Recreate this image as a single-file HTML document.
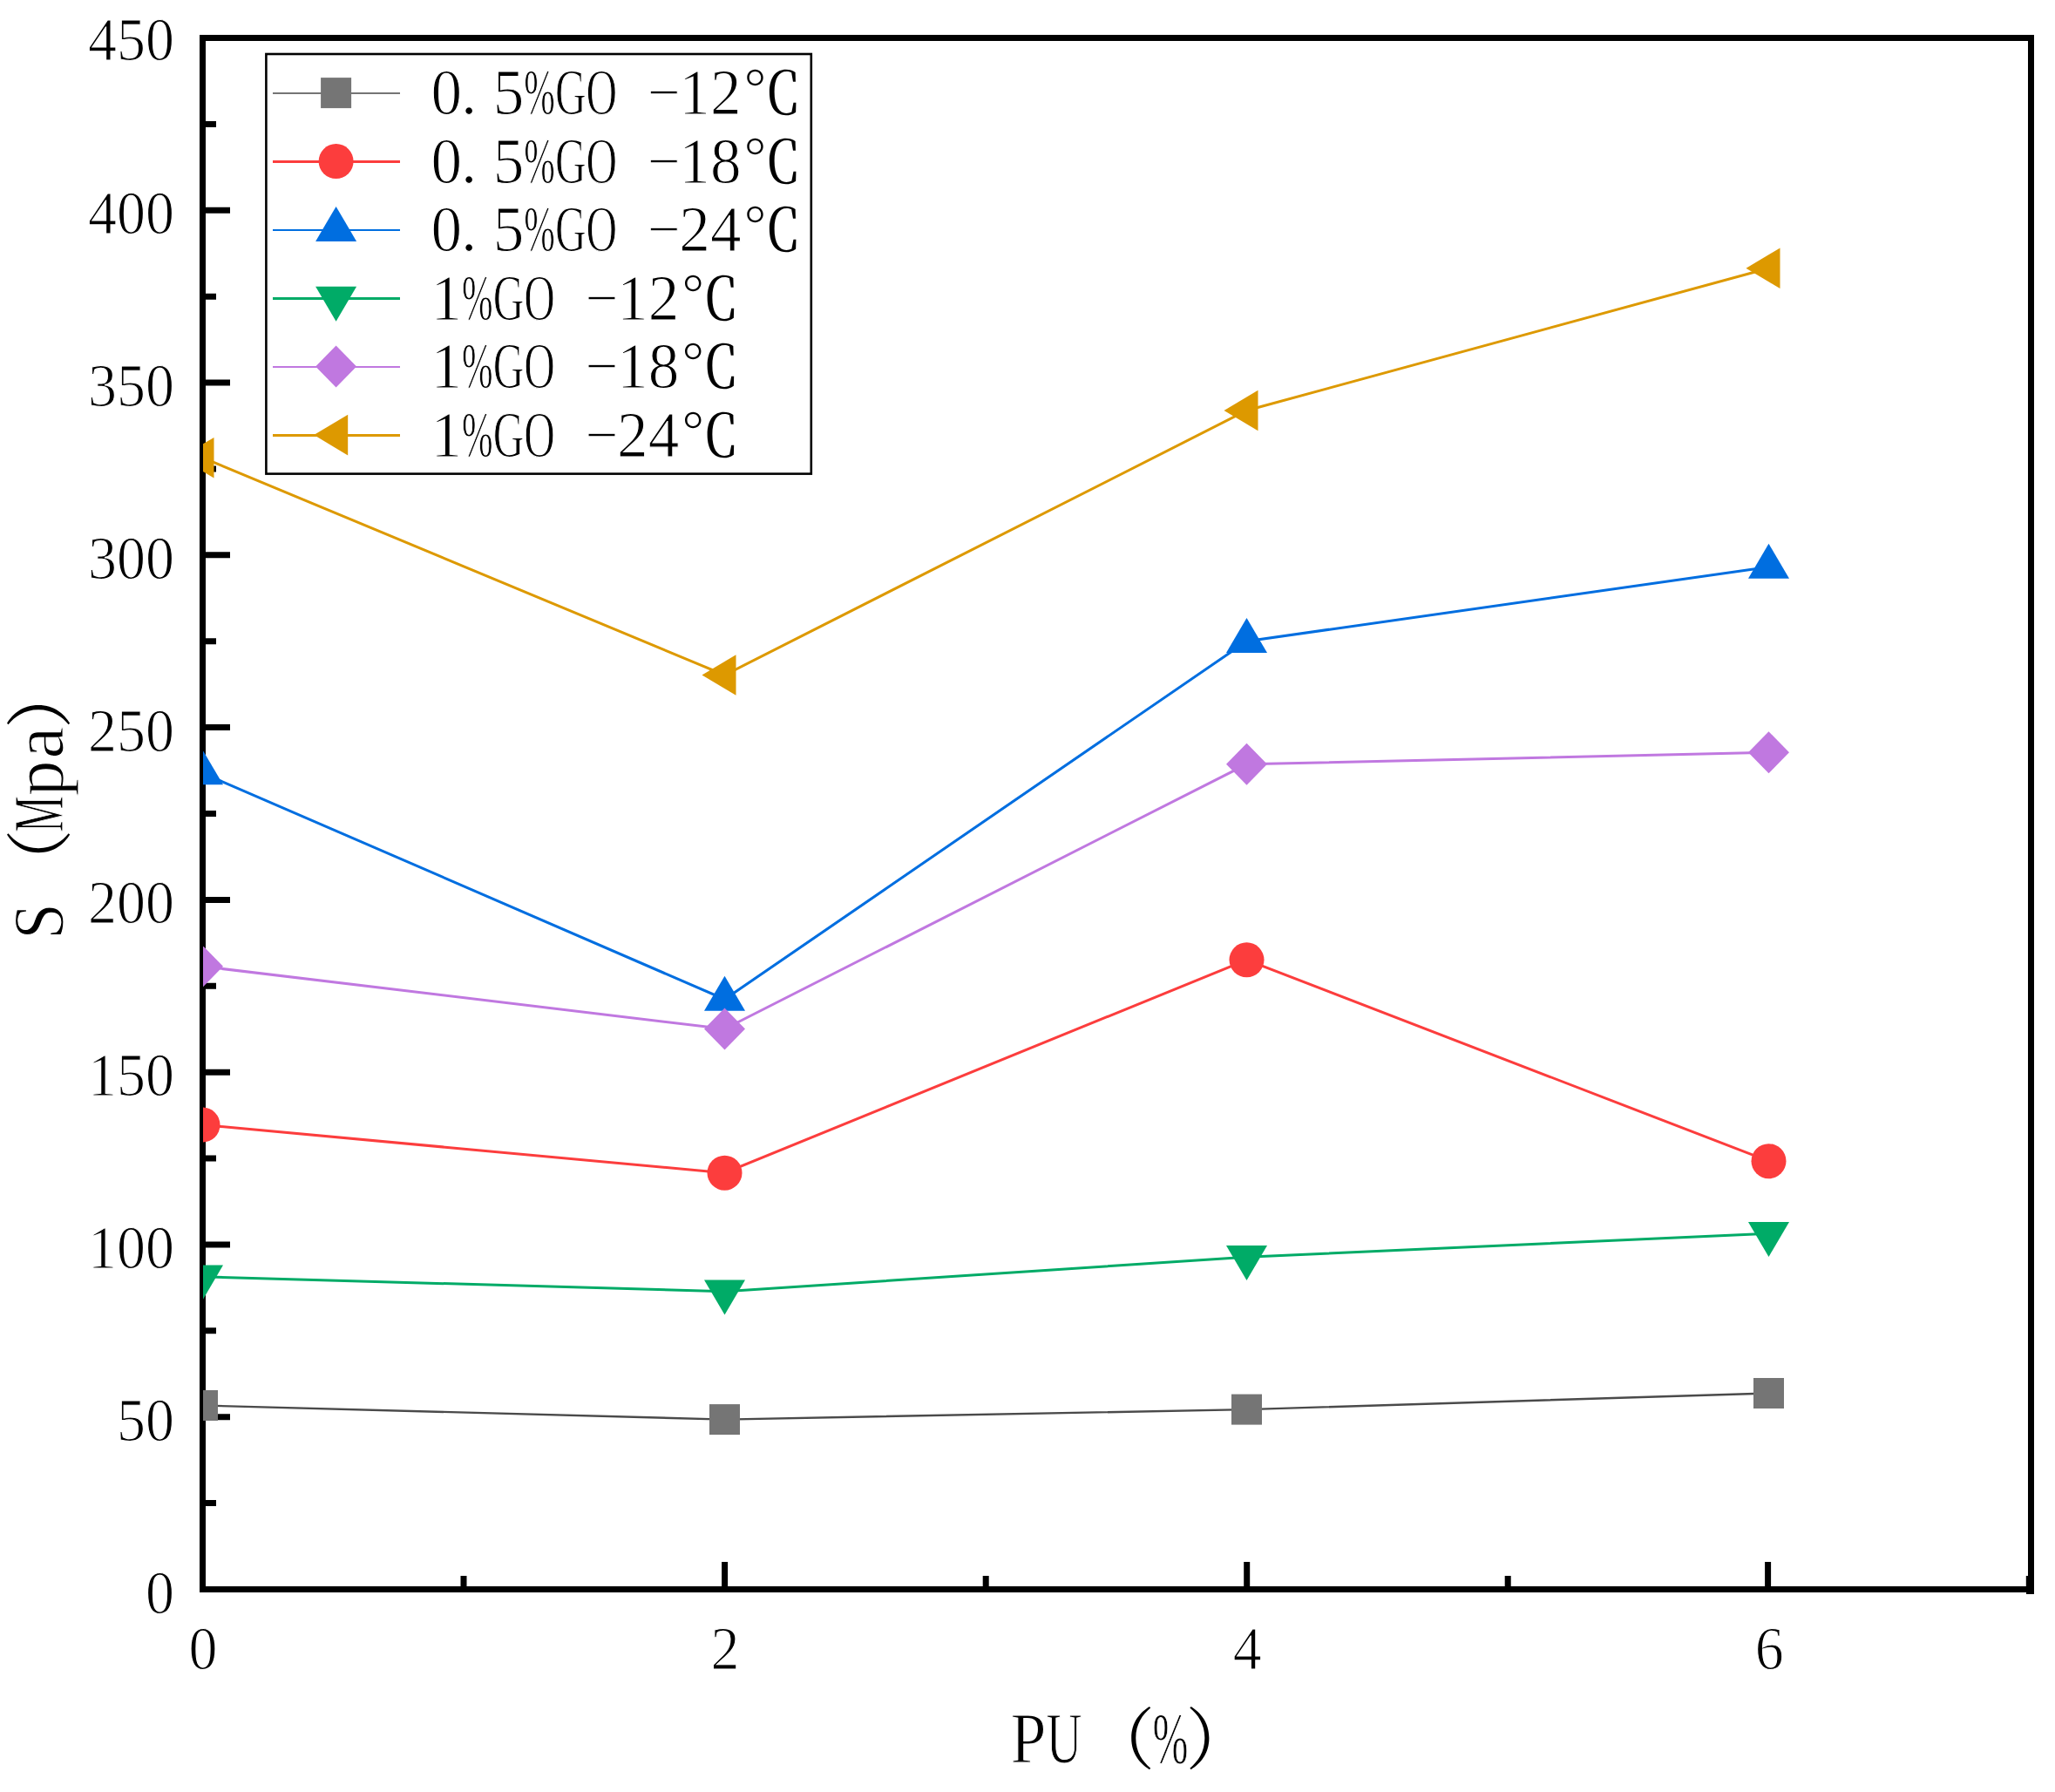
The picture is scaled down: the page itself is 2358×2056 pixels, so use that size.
<!DOCTYPE html>
<html lang="zh"><head><meta charset="utf-8"><title>S (Mpa) vs PU (%)</title>
<style>
html,body{margin:0;padding:0;background:#fff;overflow:hidden}
svg{display:block}
text{font-family:"Liberation Serif","Noto Serif CJK SC",serif;fill:#000;stroke:#fff;stroke-width:1.2px}
.cj{font-family:"Noto Serif CJK SC","Liberation Serif",serif;stroke:none}
</style></head><body>
<svg width="2358" height="2056" viewBox="0 0 2358 2056">
<rect width="2358" height="2056" fill="#fff"/>
<defs><clipPath id="pc"><rect x="233" y="43.5" width="2097.5" height="1780.0"/></clipPath></defs>

<rect x="232.5" y="43.5" width="2098.0" height="1780.0" fill="none" stroke="#000" stroke-width="7"/>
<path d="M232.5 1823.5H264M232.5 1724.6H248M232.5 1625.7H264M232.5 1526.8H248M232.5 1427.9H264M232.5 1329.1H248M232.5 1230.2H264M232.5 1131.3H248M232.5 1032.4H264M232.5 933.5H248M232.5 834.6H264M232.5 735.7H248M232.5 636.8H264M232.5 537.9H248M232.5 439.1H264M232.5 340.2H248M232.5 241.3H264M232.5 142.4H248M232.5 43.5H264M232.5 1823.5V1792M532.0 1823.5V1808M831.6 1823.5V1792M1131.2 1823.5V1808M1430.7 1823.5V1792M1730.2 1823.5V1808M2028.6 1823.5V1792M2328.3 1823.5V1808" stroke="#000" stroke-width="7" fill="none"/>
<rect x="2325" y="1808" width="9" height="21" fill="#000"/>
<g clip-path="url(#pc)">
<polyline points="232.5,1612.5 831.5,1628.6 1430.5,1617.1 2029.5,1598.5" fill="none" stroke="#4a4a4a" stroke-width="2.4"/>
<polyline points="232.5,1290.6 831.5,1345.7 1430.5,1101.3 2029.5,1332.2" fill="none" stroke="#fc3d3d" stroke-width="3.0"/>
<polyline points="232.5,887.0 831.5,1146.5 1430.5,735.7 2029.5,650.5" fill="none" stroke="#006ee0" stroke-width="3.0"/>
<polyline points="232.5,1464.8 831.5,1481.7 1430.5,1442.2 2029.5,1415.2" fill="none" stroke="#00ab67" stroke-width="3.0"/>
<polyline points="232.5,1108.8 831.5,1180.5 1430.5,876.8 2029.5,863.3" fill="none" stroke="#c078e0" stroke-width="3.0"/>
<polyline points="232.5,525.2 831.5,774.5 1430.5,471.0 2029.5,307.7" fill="none" stroke="#dd9900" stroke-width="3.0"/>
<rect x="215.0" y="1595.0" width="35.0" height="35.0" fill="#757575"/>
<rect x="814.0" y="1611.1" width="35.0" height="35.0" fill="#757575"/>
<rect x="1413.0" y="1599.6" width="35.0" height="35.0" fill="#757575"/>
<rect x="2012.0" y="1581.0" width="35.0" height="35.0" fill="#757575"/>
<circle cx="232.5" cy="1290.6" r="20" fill="#fc3d3d"/>
<circle cx="831.5" cy="1345.7" r="20" fill="#fc3d3d"/>
<circle cx="1430.5" cy="1101.3" r="20" fill="#fc3d3d"/>
<circle cx="2029.5" cy="1332.2" r="20" fill="#fc3d3d"/>
<polygon points="232.5,860.3 256.0,900.3 209.0,900.3" fill="#006ee0"/>
<polygon points="831.5,1119.8 855.0,1159.8 808.0,1159.8" fill="#006ee0"/>
<polygon points="1430.5,709.0 1454.0,749.0 1407.0,749.0" fill="#006ee0"/>
<polygon points="2029.5,623.8 2053.0,663.8 2006.0,663.8" fill="#006ee0"/>
<polygon points="232.5,1491.5 256.0,1451.5 209.0,1451.5" fill="#00ab67"/>
<polygon points="831.5,1508.4 855.0,1468.4 808.0,1468.4" fill="#00ab67"/>
<polygon points="1430.5,1468.9 1454.0,1428.9 1407.0,1428.9" fill="#00ab67"/>
<polygon points="2029.5,1441.9 2053.0,1401.9 2006.0,1401.9" fill="#00ab67"/>
<polygon points="232.5,1084.8 256.0,1108.8 232.5,1132.8 209.0,1108.8" fill="#c078e0"/>
<polygon points="831.5,1156.5 855.0,1180.5 831.5,1204.5 808.0,1180.5" fill="#c078e0"/>
<polygon points="1430.5,852.8 1454.0,876.8 1430.5,900.8 1407.0,876.8" fill="#c078e0"/>
<polygon points="2029.5,839.3 2053.0,863.3 2029.5,887.3 2006.0,863.3" fill="#c078e0"/>
<polygon points="206.5,525.2 245.5,501.9 245.5,548.5" fill="#dd9900"/>
<polygon points="805.5,774.5 844.5,751.2 844.5,797.8" fill="#dd9900"/>
<polygon points="1404.5,471.0 1443.5,447.7 1443.5,494.3" fill="#dd9900"/>
<polygon points="2003.5,307.7 2042.5,284.4 2042.5,331.0" fill="#dd9900"/>
</g>
<rect x="305.4" y="62" width="625.4" height="481.6" fill="#fff" stroke="#000" stroke-width="2.6"/>
<rect x="313" y="106" width="146" height="2.0" fill="#757575"/>
<rect x="368.1" y="89.1" width="35.0" height="35.0" fill="#757575"/>
<rect x="313" y="184" width="146" height="3.0" fill="#fc3d3d"/>
<circle cx="385.6" cy="185.1" r="20" fill="#fc3d3d"/>
<rect x="313" y="263" width="146" height="2.0" fill="#006ee0"/>
<polygon points="385.6,236.9 409.1,276.9 362.1,276.9" fill="#006ee0"/>
<rect x="313" y="341" width="146" height="3.0" fill="#00ab67"/>
<polygon points="385.6,368.8 409.1,328.8 362.1,328.8" fill="#00ab67"/>
<rect x="313" y="420" width="146" height="2.0" fill="#c078e0"/>
<polygon points="385.6,396.6 409.1,420.6 385.6,444.6 362.1,420.6" fill="#c078e0"/>
<rect x="313" y="498" width="146" height="3.0" fill="#dd9900"/>
<polygon points="360.2,499.1 399.2,475.8 399.2,522.4" fill="#dd9900"/>
<text y="131.0" font-size="75"><tspan x="494.5" y="131.0" textLength="35.6" lengthAdjust="spacingAndGlyphs">0</tspan><tspan x="528.8" y="131.0">.</tspan><tspan x="565.7" y="131.0" textLength="35.6" lengthAdjust="spacingAndGlyphs">5</tspan><tspan x="601.3" y="131.0" textLength="35.6" lengthAdjust="spacingAndGlyphs">%</tspan><tspan x="636.9" y="131.0" textLength="35.6" lengthAdjust="spacingAndGlyphs">G</tspan><tspan x="672.5" y="131.0" textLength="35.6" lengthAdjust="spacingAndGlyphs">O</tspan> <tspan x="742.7" y="131.0" textLength="37.6" lengthAdjust="spacingAndGlyphs">−</tspan><tspan x="779.3" y="131.0" textLength="35.6" lengthAdjust="spacingAndGlyphs">1</tspan><tspan x="814.9" y="131.0" textLength="35.6" lengthAdjust="spacingAndGlyphs">2</tspan><tspan x="852.3" y="131.0" class="cj" font-size="67.6">℃</tspan></text>
<text y="209.5" font-size="75"><tspan x="494.5" y="209.5" textLength="35.6" lengthAdjust="spacingAndGlyphs">0</tspan><tspan x="528.8" y="209.5">.</tspan><tspan x="565.7" y="209.5" textLength="35.6" lengthAdjust="spacingAndGlyphs">5</tspan><tspan x="601.3" y="209.5" textLength="35.6" lengthAdjust="spacingAndGlyphs">%</tspan><tspan x="636.9" y="209.5" textLength="35.6" lengthAdjust="spacingAndGlyphs">G</tspan><tspan x="672.5" y="209.5" textLength="35.6" lengthAdjust="spacingAndGlyphs">O</tspan> <tspan x="742.7" y="209.5" textLength="37.6" lengthAdjust="spacingAndGlyphs">−</tspan><tspan x="779.3" y="209.5" textLength="35.6" lengthAdjust="spacingAndGlyphs">1</tspan><tspan x="814.9" y="209.5" textLength="35.6" lengthAdjust="spacingAndGlyphs">8</tspan><tspan x="852.3" y="209.5" class="cj" font-size="67.6">℃</tspan></text>
<text y="288.0" font-size="75"><tspan x="494.5" y="288.0" textLength="35.6" lengthAdjust="spacingAndGlyphs">0</tspan><tspan x="528.8" y="288.0">.</tspan><tspan x="565.7" y="288.0" textLength="35.6" lengthAdjust="spacingAndGlyphs">5</tspan><tspan x="601.3" y="288.0" textLength="35.6" lengthAdjust="spacingAndGlyphs">%</tspan><tspan x="636.9" y="288.0" textLength="35.6" lengthAdjust="spacingAndGlyphs">G</tspan><tspan x="672.5" y="288.0" textLength="35.6" lengthAdjust="spacingAndGlyphs">O</tspan> <tspan x="742.7" y="288.0" textLength="37.6" lengthAdjust="spacingAndGlyphs">−</tspan><tspan x="779.3" y="288.0" textLength="35.6" lengthAdjust="spacingAndGlyphs">2</tspan><tspan x="814.9" y="288.0" textLength="35.6" lengthAdjust="spacingAndGlyphs">4</tspan><tspan x="852.3" y="288.0" class="cj" font-size="67.6">℃</tspan></text>
<text y="366.5" font-size="75"><tspan x="494.5" y="366.5" textLength="35.6" lengthAdjust="spacingAndGlyphs">1</tspan><tspan x="530.1" y="366.5" textLength="35.6" lengthAdjust="spacingAndGlyphs">%</tspan><tspan x="565.7" y="366.5" textLength="35.6" lengthAdjust="spacingAndGlyphs">G</tspan><tspan x="601.3" y="366.5" textLength="35.6" lengthAdjust="spacingAndGlyphs">O</tspan> <tspan x="671.5" y="366.5" textLength="37.6" lengthAdjust="spacingAndGlyphs">−</tspan><tspan x="708.1" y="366.5" textLength="35.6" lengthAdjust="spacingAndGlyphs">1</tspan><tspan x="743.7" y="366.5" textLength="35.6" lengthAdjust="spacingAndGlyphs">2</tspan><tspan x="781.1" y="366.5" class="cj" font-size="67.6">℃</tspan></text>
<text y="445.0" font-size="75"><tspan x="494.5" y="445.0" textLength="35.6" lengthAdjust="spacingAndGlyphs">1</tspan><tspan x="530.1" y="445.0" textLength="35.6" lengthAdjust="spacingAndGlyphs">%</tspan><tspan x="565.7" y="445.0" textLength="35.6" lengthAdjust="spacingAndGlyphs">G</tspan><tspan x="601.3" y="445.0" textLength="35.6" lengthAdjust="spacingAndGlyphs">O</tspan> <tspan x="671.5" y="445.0" textLength="37.6" lengthAdjust="spacingAndGlyphs">−</tspan><tspan x="708.1" y="445.0" textLength="35.6" lengthAdjust="spacingAndGlyphs">1</tspan><tspan x="743.7" y="445.0" textLength="35.6" lengthAdjust="spacingAndGlyphs">8</tspan><tspan x="781.1" y="445.0" class="cj" font-size="67.6">℃</tspan></text>
<text y="523.5" font-size="75"><tspan x="494.5" y="523.5" textLength="35.6" lengthAdjust="spacingAndGlyphs">1</tspan><tspan x="530.1" y="523.5" textLength="35.6" lengthAdjust="spacingAndGlyphs">%</tspan><tspan x="565.7" y="523.5" textLength="35.6" lengthAdjust="spacingAndGlyphs">G</tspan><tspan x="601.3" y="523.5" textLength="35.6" lengthAdjust="spacingAndGlyphs">O</tspan> <tspan x="671.5" y="523.5" textLength="37.6" lengthAdjust="spacingAndGlyphs">−</tspan><tspan x="708.1" y="523.5" textLength="35.6" lengthAdjust="spacingAndGlyphs">2</tspan><tspan x="743.7" y="523.5" textLength="35.6" lengthAdjust="spacingAndGlyphs">4</tspan><tspan x="781.1" y="523.5" class="cj" font-size="67.6">℃</tspan></text>
<text x="167" y="1850.5" font-size="70" textLength="33" lengthAdjust="spacingAndGlyphs">0</text>
<text x="134" y="1652.7" font-size="70" textLength="66" lengthAdjust="spacingAndGlyphs">50</text>
<text x="101" y="1454.9" font-size="70" textLength="99" lengthAdjust="spacingAndGlyphs">100</text>
<text x="101" y="1257.2" font-size="70" textLength="99" lengthAdjust="spacingAndGlyphs">150</text>
<text x="101" y="1059.4" font-size="70" textLength="99" lengthAdjust="spacingAndGlyphs">200</text>
<text x="101" y="861.6" font-size="70" textLength="99" lengthAdjust="spacingAndGlyphs">250</text>
<text x="101" y="663.8" font-size="70" textLength="99" lengthAdjust="spacingAndGlyphs">300</text>
<text x="101" y="466.1" font-size="70" textLength="99" lengthAdjust="spacingAndGlyphs">350</text>
<text x="101" y="268.3" font-size="70" textLength="99" lengthAdjust="spacingAndGlyphs">400</text>
<text x="101" y="69.0" font-size="70" textLength="99" lengthAdjust="spacingAndGlyphs">450</text>
<text x="216.5" y="1915" font-size="70" textLength="33" lengthAdjust="spacingAndGlyphs">0</text>
<text x="815.6" y="1915" font-size="70" textLength="33" lengthAdjust="spacingAndGlyphs">2</text>
<text x="1414.7" y="1915" font-size="70" textLength="33" lengthAdjust="spacingAndGlyphs">4</text>
<text x="2013.8" y="1915" font-size="70" textLength="33" lengthAdjust="spacingAndGlyphs">6</text>
<text y="2022.0" font-size="83"><tspan x="1159.5" y="2022.0" textLength="41.0" lengthAdjust="spacingAndGlyphs">P</tspan><tspan x="1200.5" y="2022.0" textLength="41.0" lengthAdjust="spacingAndGlyphs">U</tspan><tspan x="1248.0" y="2023.5" class="cj" font-size="77.1">（</tspan><tspan x="1322.5" y="2022.0" textLength="41.0" lengthAdjust="spacingAndGlyphs">%</tspan><tspan x="1360.5" y="2023.5" class="cj" font-size="77.1">）</tspan></text>
<g transform="translate(72.3,1077.5) rotate(-90)"><text y="0.0" font-size="83"><tspan x="0.0" y="0.0" textLength="41.0" lengthAdjust="spacingAndGlyphs">S</tspan><tspan x="49.0" y="1.5" class="cj" font-size="77.1">（</tspan><tspan x="123.0" y="0.0" textLength="41.0" lengthAdjust="spacingAndGlyphs">M</tspan><tspan x="164.0" y="0.0" textLength="41.0" lengthAdjust="spacingAndGlyphs">p</tspan><tspan x="207.1" y="0.0">a</tspan><tspan x="241.5" y="1.5" class="cj" font-size="77.1">）</tspan></text></g>
</svg></body></html>
